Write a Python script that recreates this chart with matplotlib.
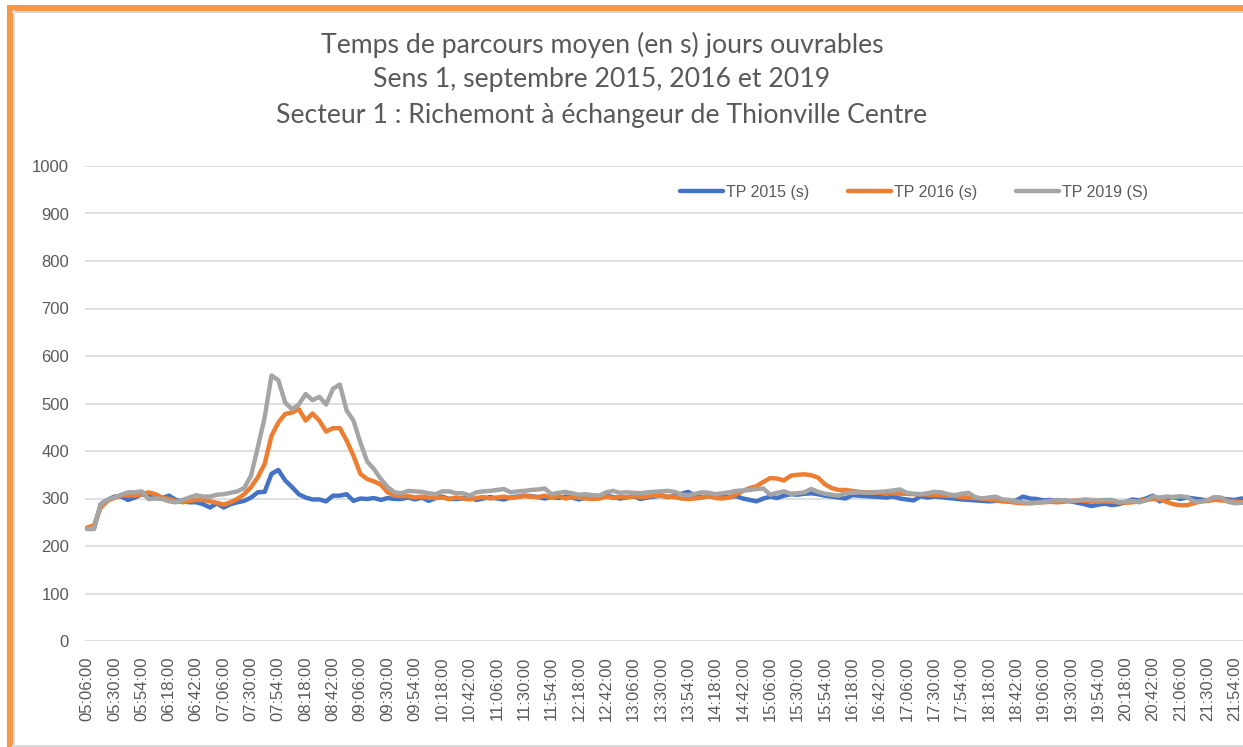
import matplotlib
matplotlib.use('Agg')
import matplotlib.pyplot as plt
from matplotlib.patches import Rectangle
from matplotlib.lines import Line2D
import numpy as np
import pandas as pd

# Temps de parcours moyens, pas de 6 minutes a partir de 05:06
heures = pd.date_range('2019-09-02 05:06', periods=171, freq='6min').strftime('%H:%M:%S').tolist()

tp_2015 = [236, 236, 288, 297, 304, 304, 297, 302, 309, 306, 302, 301, 306, 297, 294, 292, 292, 288, 281, 290,
           281, 288, 292, 295, 302, 313, 314, 352, 360, 338, 324, 309, 302, 298, 298, 294, 306, 306, 309, 295,
           300, 299, 301, 297, 301, 299, 299, 302, 298, 302, 295, 301, 304, 299, 299, 300, 302, 297, 300, 303,
           300, 298, 302, 304, 306, 305, 303, 300, 303, 301, 304, 302, 298, 302, 300, 303, 306, 303, 300, 302,
           305, 299, 302, 304, 307, 303, 305, 310, 314, 306, 303, 305, 308, 306, 303, 305, 300, 297, 294, 300,
           304, 301, 306, 309, 308, 310, 311, 309, 306, 304, 302, 300, 307, 306, 305, 304, 303, 302, 304, 300,
           298, 296, 305, 302, 304, 303, 301, 300, 298, 297, 296, 295, 294, 295, 296, 293, 296, 304, 300, 299,
           296, 297, 295, 296, 294, 291, 288, 284, 287, 289, 286, 288, 292, 298, 296, 300, 306, 294, 300, 303,
           299, 302, 300, 298, 296, 299, 300, 298, 297, 300, 299]

tp_2016 = [239, 243, 281, 295, 301, 306, 307, 306, 309, 313, 309, 302, 299, 295, 292, 295, 297, 297, 294, 291,
           287, 292, 299, 309, 324, 345, 373, 432, 460, 478, 481, 488, 464, 479, 464, 441, 448, 448, 422, 390,
           352, 341, 336, 329, 313, 306, 305, 305, 302, 304, 302, 301, 302, 299, 302, 300, 298, 301, 303, 300,
           302, 304, 301, 303, 305, 304, 303, 306, 302, 305, 300, 303, 302, 300, 299, 300, 304, 301, 304, 302,
           305, 303, 304, 306, 305, 304, 303, 300, 299, 300, 302, 305, 301, 300, 302, 308, 316, 322, 326, 335,
           343, 342, 338, 348, 350, 351, 349, 344, 330, 322, 318, 318, 316, 314, 313, 313, 312, 311, 311, 310,
           310, 309, 309, 308, 307, 307, 306, 305, 303, 302, 301, 300, 298, 296, 294, 293, 291, 290, 290, 291,
           292, 293, 292, 293, 295, 296, 295, 294, 293, 294, 293, 292, 291, 292, 295, 297, 299, 298, 293, 288,
           286, 286, 290, 294, 295, 297, 296, 295, 294, 292, 293]

tp_2019 = [236, 236, 288, 297, 302, 308, 313, 313, 315, 299, 300, 299, 294, 292, 297, 302, 307, 304, 304, 308,
           309, 312, 315, 322, 348, 408, 471, 559, 549, 502, 488, 498, 520, 507, 514, 498, 531, 540, 485, 464,
           418, 378, 362, 341, 324, 313, 311, 316, 315, 314, 311, 309, 315, 315, 311, 311, 306, 313, 315, 316,
           318, 320, 313, 315, 316, 318, 319, 321, 309, 312, 314, 311, 308, 309, 307, 306, 313, 316, 312, 313,
           312, 311, 313, 314, 315, 316, 314, 308, 307, 310, 313, 312, 309, 311, 313, 316, 317, 318, 320, 321,
           308, 312, 315, 310, 311, 313, 320, 314, 310, 308, 306, 311, 312, 313, 312, 313, 314, 315, 317, 319,
           312, 310, 309, 311, 314, 313, 309, 307, 310, 312, 303, 300, 302, 304, 298, 297, 294, 292, 290, 291,
           293, 295, 297, 296, 294, 296, 298, 297, 296, 297, 297, 292, 293, 295, 292, 296, 304, 302, 304, 303,
           305, 303, 294, 293, 297, 303, 302, 293, 290, 291, 292]

series = [('TP 2015 (s)', tp_2015, '#4472C4'),
          ('TP 2016 (s)', tp_2016, '#ED7D31'),
          ('TP 2019 (S)', tp_2019, '#A5A5A5')]

W, H = 1243, 747
gris_txt = '#595959'

fig = plt.figure(figsize=(W / 100, H / 100), dpi=100)
fig.patch.set_facecolor('white')

ax = fig.add_axes([85 / W, 1 - 641 / H, 1 - 85 / W, (641 - 166) / H])
x = np.arange(len(heures))
for nom, val, coul in series:
    ax.plot(x, val, color=coul, lw=3.2, label=nom, solid_joinstyle='round', solid_capstyle='round')

ax.set_ylim(0, 1000)
ax.set_yticks(np.arange(0, 1001, 100))
ax.set_xlim(-0.3, 169.2)
ax.set_xticks(x[::4])
ax.set_xticklabels(heures[::4], rotation=90, fontsize=12, color=gris_txt, family='Liberation Sans')
ax.tick_params(axis='y', labelsize=12, labelcolor=gris_txt, length=0, pad=11.5)
ax.tick_params(axis='x', length=0, pad=11)
for lab in ax.get_yticklabels():
    lab.set_family('Liberation Sans')
ax.grid(axis='y', color='#D9D9D9', lw=1.2)
ax.set_axisbelow(True)
for s in ax.spines.values():
    s.set_visible(False)

# Titre
fig.text(602 / W, 1 - 45 / H, 'Temps de parcours moyen (en s) jours ouvrables', ha='center', va='center',
         fontsize=19.2, color=gris_txt, family='Lato')
fig.text(602 / W, 1 - 79 / H, 'Sens 1, septembre 2015, 2016 et 2019', ha='center', va='center',
         fontsize=19.2, color=gris_txt, family='Lato')
fig.text(602 / W, 1 - 116 / H, 'Secteur 1 : Richemont à échangeur de Thionville Centre', ha='center', va='center',
         fontsize=19.2, color=gris_txt, family='Lato')

# Legende
leg = fig.legend(loc='center left', bbox_to_anchor=(680 / W, 1 - 192 / H), ncol=3, frameon=False,
                 prop={'family': 'Liberation Sans', 'size': 11.5}, handlelength=2.7, handletextpad=0.2,
                 columnspacing=2.4, borderpad=0, borderaxespad=0)
for t in leg.get_texts():
    t.set_color(gris_txt)

# Cadre orange
fig.add_artist(Rectangle((7 / W, 1 - 10.7 / H), 1, 5.7 / H, transform=fig.transFigure, color='#F79646', lw=0))
fig.add_artist(Rectangle((7.3 / W, 0), 5.4 / W, 1 - 5 / H, transform=fig.transFigure, color='#F79646', lw=0))
fig.add_artist(Line2D([12.7 / W, 1], [1 - 12 / H, 1 - 12 / H], transform=fig.transFigure, color='#D9D9D9', lw=1.5))
fig.add_artist(Line2D([13.8 / W, 13.8 / W], [0, 1 - 11 / H], transform=fig.transFigure, color='#D9D9D9', lw=1.5))
fig.add_artist(Line2D([12.7 / W, 1], [1.2 / H, 1.2 / H], transform=fig.transFigure, color='#D9D9D9', lw=1.5))

fig.savefig('out.png', dpi=100)
